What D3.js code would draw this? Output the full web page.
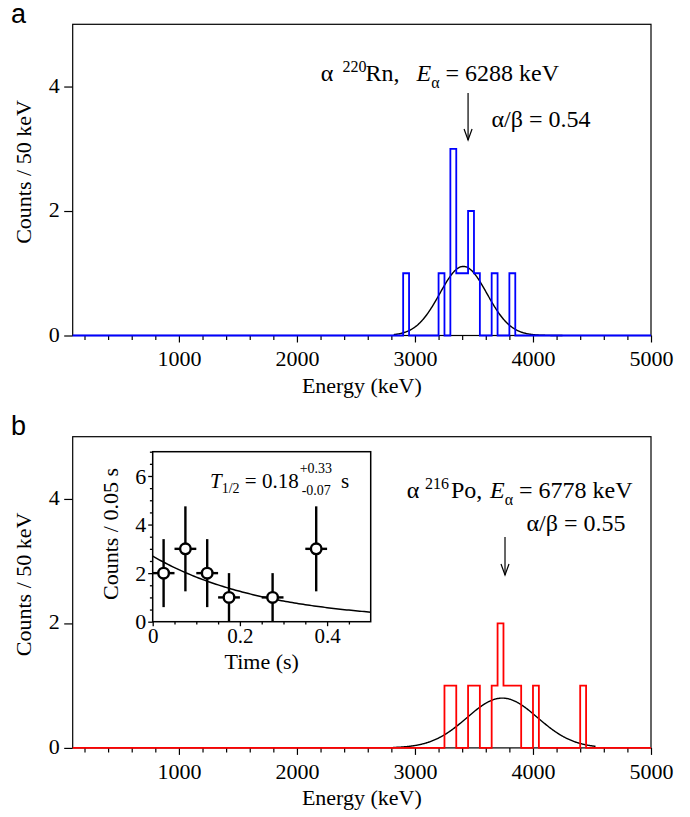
<!DOCTYPE html>
<html>
<head>
<meta charset="utf-8">
<script src="https://cdn.jsdelivr.net/npm/d3@7"></script>
<style>
  body { margin: 0; background: #fff; }
  svg text { font-family: "Liberation Serif", "Times New Roman", serif; fill: #000; }
  svg text.panel_letter { font-family: "Liberation Sans", Arial, sans-serif; }
</style>
</head>
<body>
<svg id="chart" width="690" height="817"></svg>
<script>
/**
 * Data.
 */
const binWidth = 50
const energyTicks = [1000, 2000, 3000, 4000, 5000]
const countTicks = [0, 2, 4]

// panel a: 220Rn alpha peak
const rnBinStarts = [2900, 3200, 3300, 3350, 3400, 3450, 3500, 3650, 3800]
const rnCounts = [1, 1, 3, 1, 1, 2, 1, 1, 1]
const rnFit = { mean: 3410, sigma: 200, amp: 1.11, from: 2820, to: 4250 }
const rnArrowEnergy = 3450

// panel b: 216Po alpha peak
const poBinStarts = [3250, 3300, 3450, 3500, 3650, 3700, 3750, 3800, 3850, 4000, 4400]
const poCounts = [1, 1, 1, 1, 1, 2, 1, 1, 1, 1, 1]
const poFit = { mean: 3740, sigma: 300, amp: 0.8, from: 2815, to: 4530 }
const poArrowEnergy = 3763

// inset: time distribution
const decayTimes = [0.025, 0.075, 0.125, 0.175, 0.275, 0.375]
const decayCounts = [2, 3, 2, 1, 1, 3]
const decayErrLow = [1.4, 1.75, 1.4, 1, 1, 1.75]
const decayErrHigh = [1.4, 1.75, 1.4, 1, 1, 1.75]
const decayFit = { amp: 2.7, halfLife: 0.18 }
const timeTicks = [0, 0.2, 0.4]
const insetCountTicks = [0, 2, 4, 6]

const svg = d3.select("#chart")

/**
 * Frame of one spectrum panel (in panel coordinates).
 */
const frame = { left: 72.7, right: 651, top: 24.3, bottom: 335.5 }

const xScale = d3.scaleLinear().domain([100, 5000]).range([frame.left, frame.right])
const yScale = d3.scaleLinear().domain([0, 5]).range([frame.bottom, frame.top])

function histogramPoints(starts, counts) {
  let pts = [[xScale.domain()[0], 0]]
  starts.forEach((s, i) => {
    pts.push([s, counts[i]])
    if (starts[i + 1] !== s + binWidth) pts.push([s + binWidth, 0])
  })
  pts.push([xScale.domain()[1], 0])
  return pts
}

function drawArrow(g, x, y1, y2) {
  g.append("line")
    .attr("x1", x).attr("x2", x).attr("y1", y1).attr("y2", y2)
    .attr("stroke", "black").attr("stroke-width", 1.2)
  g.append("path")
    .attr("d", `M${x - 4},${y2 - 11} L${x},${y2} L${x + 4},${y2 - 11}`)
    .attr("fill", "none").attr("stroke", "black").attr("stroke-width", 1.2)
}

// label like "α ²²⁰Rn,  E_α = 6288 keV" with pinned pieces
function isotopeLabel(g, y, pos, mass, element, energy) {
  let t = g.append("text").attr("y", y).attr("font-size", 24)
  t.append("tspan").attr("x", pos[0]).text("α")
  t.append("tspan").attr("x", pos[1]).attr("font-size", 16).attr("dy", -9).text(mass)
  t.append("tspan").attr("x", pos[2]).attr("dy", 9).text(element + ",")
  t.append("tspan").attr("x", pos[3]).attr("font-style", "italic").text("E")
  t.append("tspan").attr("font-size", 16).attr("dy", 7).text("α")
  t.append("tspan").attr("dy", -7).text(" = " + energy + " keV")
}

function drawSpectrum(offsetY, letter, starts, counts, color, fit) {
  let g = svg.append("g").attr("transform", `translate(0,${offsetY})`)

  g.append("text")
    .attr("class", "panel_letter")
    .attr("x", 11).attr("y", 23)
    .attr("font-size", 27)
    .text(letter)

  // Frame
  g.append("rect")
    .attr("x", frame.left).attr("y", frame.top)
    .attr("width", frame.right - frame.left)
    .attr("height", frame.bottom - frame.top)
    .attr("fill", "none").attr("stroke", "black").attr("stroke-width", 1.2)

  // x axis: major and minor ticks
  let minor = d3.range(200, 5000, 200).filter(v => v % 1000 !== 0)
  let x_axis_minor = d3.axisBottom(xScale).tickValues(minor).tickSize(4.5).tickFormat("")
  let x_axis = d3.axisBottom(xScale).tickValues(energyTicks).tickSize(7).tickPadding(8)
    .tickFormat(d3.format("d"))

  let gx = g.append("g").attr("transform", `translate(0,${frame.bottom})`)
  gx.append("g").call(x_axis_minor)
  gx.append("g").call(x_axis)
  gx.selectAll("g").attr("font-family", null)
  gx.selectAll(".domain").remove()
  gx.selectAll("text").attr("font-size", 22)
  gx.selectAll("line").attr("stroke-width", 1.2)

  // y axis
  let y_axis = d3.axisLeft(yScale).tickValues(countTicks).tickSize(8.5).tickPadding(4.5)
    .tickFormat(d3.format("d"))
  let gy = g.append("g").attr("transform", `translate(${frame.left},0)`).call(y_axis)
  gy.attr("font-family", null)
  gy.selectAll(".domain").remove()
  gy.selectAll("text").attr("font-size", 22).attr("dy", "0.25em")
  gy.selectAll("line").attr("stroke-width", 1.2)

  // axis titles
  g.append("text")
    .attr("x", (frame.left + frame.right) / 2).attr("y", 393)
    .attr("text-anchor", "middle").attr("font-size", 22)
    .text("Energy (keV)")

  g.append("text")
    .attr("transform", "rotate(-90)")
    .attr("x", -172).attr("y", 31)
    .attr("text-anchor", "middle").attr("font-size", 22)
    .text("Counts / 50 keV")

  // Gaussian fit
  let fitPts = d3.range(fit.from, fit.to + 1, 5)
    .map(e => [e, fit.amp * Math.exp(-0.5 * ((e - fit.mean) / fit.sigma) ** 2)])
  g.append("path")
    .datum(fitPts)
    .attr("d", d3.line().x(d => xScale(d[0])).y(d => yScale(d[1])))
    .attr("fill", "none").attr("stroke", "black").attr("stroke-width", 1.4)

  // Histogram
  g.append("path")
    .datum(histogramPoints(starts, counts))
    .attr("d", d3.line().x(d => xScale(d[0])).y(d => yScale(d[1])).curve(d3.curveStepAfter))
    .attr("fill", "none").attr("stroke", color).attr("stroke-width", 1.8)

  return g
}

/**
 * Panel a
 */
let ga = drawSpectrum(0, "a", rnBinStarts, rnCounts, "#0000ff", rnFit)
isotopeLabel(ga, 81, [320.7, 342.5, 365.5, 416.5], "220", "Rn", "6288")
ga.append("text").attr("x", 491.5).attr("y", 127).attr("font-size", 24).text("α/β = 0.54")
drawArrow(ga, xScale(rnArrowEnergy), 93, 140)

/**
 * Panel b
 */
const offB = 412.4
let gb = drawSpectrum(offB, "b", poBinStarts, poCounts, "#ff0000", poFit)
isotopeLabel(gb, 498 - offB, [406.7, 425, 451, 490], "216", "Po", "6778")
gb.append("text").attr("x", 526.5).attr("y", 531 - offB).attr("font-size", 24).text("α/β = 0.55")
drawArrow(gb, xScale(poArrowEnergy), 537 - offB, 575 - offB)

/**
 * Inset: decay time
 */
const inset = { left: 152.7, right: 370.7, top: 451.7, bottom: 621.7 }
const tScale = d3.scaleLinear().domain([0, 0.5]).range([inset.left, inset.right])
const cScale = d3.scaleLinear().domain([0, 7]).range([inset.bottom, inset.top])

let gi = svg.append("g")

gi.append("rect")
  .attr("x", inset.left).attr("y", inset.top)
  .attr("width", inset.right - inset.left).attr("height", inset.bottom - inset.top)
  .attr("fill", "white").attr("stroke", "black").attr("stroke-width", 1.5)

let gix = gi.append("g").attr("transform", `translate(0,${inset.bottom})`)
gix.append("g").call(d3.axisBottom(tScale)
  .tickValues(d3.range(0.05, 0.5, 0.05).filter(v => Math.abs(v * 5 - Math.round(v * 5)) > 1e-6))
  .tickSize(2.8).tickFormat(""))
gix.append("g").call(d3.axisBottom(tScale).tickValues(timeTicks).tickSize(4.5).tickPadding(2)
  .tickFormat(d => d === 0 ? "0" : d3.format(".1f")(d)))
gix.selectAll("g").attr("font-family", null)
gix.selectAll(".domain").remove()
gix.selectAll("text").attr("font-size", 21)
gix.selectAll("line").attr("stroke-width", 1.3)

let giy = gi.append("g").attr("transform", `translate(${inset.left},0)`)
giy.append("g").call(d3.axisLeft(cScale)
  .tickValues(d3.range(0.5, 7.01, 0.5).filter(v => v % 2 !== 0))
  .tickSize(2.8).tickFormat(""))
giy.append("g").call(d3.axisLeft(cScale).tickValues(insetCountTicks).tickSize(4.5).tickPadding(2)
  .tickFormat(d3.format("d")))
giy.selectAll("g").attr("font-family", null)
giy.selectAll(".domain").remove()
giy.selectAll("text").attr("font-size", 22).attr("dy", "0.33em")
giy.selectAll("line").attr("stroke-width", 1.3)

gi.append("text")
  .attr("x", (inset.left + inset.right) / 2).attr("y", 669)
  .attr("text-anchor", "middle").attr("font-size", 22)
  .text("Time (s)")

gi.append("text")
  .attr("transform", "rotate(-90)")
  .attr("x", -534).attr("y", 118)
  .attr("text-anchor", "middle").attr("font-size", 22)
  .text("Counts / 0.05 s")

// decay fit
let decayPts = d3.range(0, 0.5001, 0.005)
  .map(t => [t, decayFit.amp * Math.pow(2, -t / decayFit.halfLife)])
gi.append("path")
  .datum(decayPts)
  .attr("d", d3.line().x(d => tScale(d[0])).y(d => cScale(d[1])))
  .attr("fill", "none").attr("stroke", "black").attr("stroke-width", 1.5)

// error bars and markers
let pts = gi.selectAll(".pt").data(decayTimes.map((t, i) => ({
  t: t, c: decayCounts[i], lo: decayErrLow[i], hi: decayErrHigh[i]
}))).enter().append("g").attr("class", "pt")

pts.append("line")
  .attr("x1", d => tScale(d.t)).attr("x2", d => tScale(d.t))
  .attr("y1", d => cScale(Math.max(0, d.c - d.lo))).attr("y2", d => cScale(d.c + d.hi))
  .attr("stroke", "black").attr("stroke-width", 2.4)
pts.append("line")
  .attr("x1", d => tScale(d.t - 0.025)).attr("x2", d => tScale(d.t + 0.025))
  .attr("y1", d => cScale(d.c)).attr("y2", d => cScale(d.c))
  .attr("stroke", "black").attr("stroke-width", 2.4)
pts.append("circle")
  .attr("cx", d => tScale(d.t)).attr("cy", d => cScale(d.c))
  .attr("r", 5.3)
  .attr("fill", "white").attr("stroke", "black").attr("stroke-width", 2.4)

// half-life label: main part, then stacked +/- errors after it
let th = gi.append("text").attr("x", 210).attr("y", 488).attr("font-size", 21)
th.append("tspan").attr("font-style", "italic").text("T")
th.append("tspan").attr("font-size", 14).attr("dy", 5).text("1/2")
th.append("tspan").attr("dy", -5).text(" = 0.18")
let thEnd = 210 + th.node().getComputedTextLength() + 1
gi.append("text").attr("x", thEnd).attr("y", 473).attr("font-size", 14).text("+0.33")
gi.append("text").attr("x", thEnd + 2).attr("y", 495).attr("font-size", 14).text("-0.07")
gi.append("text").attr("x", Math.max(341, thEnd + 38)).attr("y", 488).attr("font-size", 21).text("s")
</script>
</body>
</html>
